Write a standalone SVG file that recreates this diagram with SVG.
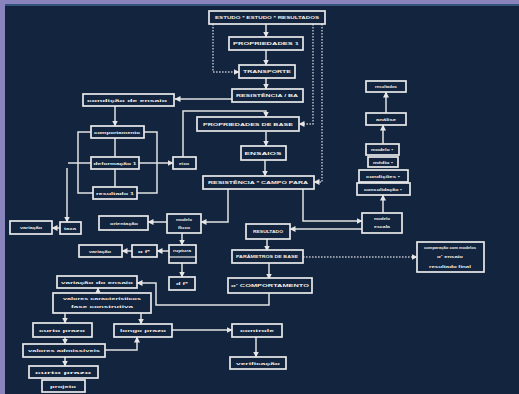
<svg xmlns="http://www.w3.org/2000/svg" width="519" height="394" viewBox="0 0 519 394">
<defs>
<style>
.n rect{fill:#13243f;stroke:#e9e9e9;stroke-width:1.7}
.n text{font-family:"Liberation Sans",Arial,sans-serif;font-size:4.4px;fill:#f3f0ea;text-anchor:middle;font-weight:bold}
.c path{fill:none;stroke:#e2e2e2;stroke-width:1.5}
.c path.a{marker-end:url(#ah)}
.c path.d{stroke:#b9bdc8;stroke-dasharray:1.6 1.4}
</style>
<marker id="ah" markerUnits="userSpaceOnUse" markerWidth="6" markerHeight="6" refX="5.5" refY="3" orient="auto">
<path d="M0,0 L6,3 L0,6 z" fill="#e6e6e6"/>
</marker>
</defs>
<rect x="0" y="0" width="519" height="394" fill="#8a84bc"/>
<rect x="5" y="4" width="514" height="390" fill="#13243f"/>
<rect x="5" y="4" width="514" height="2" fill="#35547d"/>

<g class="c">
<path class="a" d="M266,24 V37"/>
<path class="a" d="M266,50 V65"/>
<path class="a" d="M266,78 V89"/>
<path class="a d" d="M213,24 V72 H239"/>
<path class="a d" d="M313,24 V124 H299"/>
<path class="a d" d="M322,24 V182 H314"/>
<path class="a" d="M232,99 H175"/>
<path class="a" d="M115,106 V126"/>
<path class="a" d="M183,157 V111 H266 V117"/>
<path class="a" d="M266,132 V146"/>
<path class="a" d="M265,160 V176"/>
<path d="M115,138 V157"/>
<path d="M115,169 V187"/>
<path d="M91,132 H78 V193 H93"/>
<path d="M144,132 H157 V193 H137"/>
<path d="M68,163 H91"/>
<path class="a" d="M67,168 V222"/>
<path class="a" d="M139,163 H173"/>
<path class="a" d="M60,228 H52"/>
<path class="a" d="M228,189 V222 H201"/>
<path d="M303,189 V221 H357"/>
<path class="a" d="M357,221 H362"/>
<path class="a" d="M362,229 H290"/>
<path class="a" d="M383,213 V195"/>
<path class="a" d="M383,144 V125"/>
<path class="a" d="M386,113 V92"/>
<path class="a" d="M167,222 H148"/>
<path class="a" d="M182,233 V245"/>
<path class="a" d="M169,251 H157"/>
<path class="a" d="M132,251 H122"/>
<path class="a" d="M182,263 V277"/>
<path class="a" d="M267,239 V251"/>
<path class="a d" d="M303,257 H417"/>
<path class="a" d="M269,263 V279"/>
<path class="a" d="M269,293 V305 H156 V283 H137"/>
<path class="a" d="M98,293 V288"/>
<path class="a" d="M65,313 V323"/>
<path class="a" d="M141,313 V324"/>
<path class="a" d="M65,337 V344"/>
<path class="a" d="M105,350 H137 V337"/>
<path class="a" d="M65,357 V366"/>
<path class="a" d="M172,330 H232"/>
<path class="a" d="M256,337 V357"/>
</g>

<g id="n1" class="n"><rect x="209" y="11" width="116" height="13"/><text x="267" y="19" textLength="104" lengthAdjust="spacingAndGlyphs">ESTUDO * ESTUDO * RESULTADOS</text></g>
<g id="n2" class="n"><rect x="229" y="37" width="74" height="13"/><text x="266" y="45" textLength="66" lengthAdjust="spacingAndGlyphs">PROPRIEDADES 1</text></g>
<g id="n3" class="n"><rect x="239" y="65" width="56" height="13"/><text x="267" y="73" textLength="48" lengthAdjust="spacingAndGlyphs">TRANSPORTE</text></g>
<g id="n4" class="n"><rect x="232" y="89" width="71" height="13"/><text x="267" y="97" textLength="62" lengthAdjust="spacingAndGlyphs">RESISTÊNCIA / BA</text></g>
<g id="n5" class="n"><rect x="83" y="94" width="91" height="12"/><text x="127" y="101.5" textLength="80" lengthAdjust="spacingAndGlyphs">condição  de  ensaio</text></g>
<g id="n6" class="n"><rect x="197" y="117" width="102" height="14"/><text x="248" y="125.5" textLength="90" lengthAdjust="spacingAndGlyphs">PROPRIEDADES DE BASE</text></g>
<g id="n7" class="n"><rect x="91" y="126" width="53" height="12"/><text x="117" y="133.5" textLength="46" lengthAdjust="spacingAndGlyphs">comportamento</text></g>
<g id="n8" class="n"><rect x="241" y="146" width="45" height="14"/><text x="263" y="154.5" textLength="37" lengthAdjust="spacingAndGlyphs">ENSAIOS</text></g>
<g id="n9" class="n"><rect x="91" y="157" width="48" height="12"/><text x="115" y="164.5" textLength="43" lengthAdjust="spacingAndGlyphs">deformação 1</text></g>
<g id="n10" class="n"><rect x="173" y="157" width="23" height="12"/><text x="184" y="164.5" textLength="10" lengthAdjust="spacingAndGlyphs">eixo</text></g>
<g id="n11" class="n"><rect x="93" y="187" width="44" height="12"/><text x="115" y="194.5" textLength="38" lengthAdjust="spacingAndGlyphs">resultado 1</text></g>
<g id="n12" class="n"><rect x="203" y="176" width="111" height="13"/><text x="258" y="184" textLength="100" lengthAdjust="spacingAndGlyphs">RESISTÊNCIA * CAMPO PARA</text></g>
<g id="n13" class="n"><rect x="366" y="81" width="40" height="11"/><text x="386" y="88" textLength="22" lengthAdjust="spacingAndGlyphs">resultados</text></g>
<g id="n14" class="n"><rect x="366" y="113" width="40" height="12"/><text x="386" y="120.5" textLength="20" lengthAdjust="spacingAndGlyphs">análise</text></g>
<g id="n15" class="n"><rect x="366" y="144" width="33" height="11"/><text x="382" y="151" textLength="22" lengthAdjust="spacingAndGlyphs">modelo  •</text></g>
<g id="n16" class="n"><rect x="368" y="157" width="30" height="10"/><text x="383" y="163.5" textLength="20" lengthAdjust="spacingAndGlyphs">médio  •</text></g>
<g id="n17" class="n"><rect x="359" y="170" width="49" height="12"/><text x="383" y="177.5" textLength="34" lengthAdjust="spacingAndGlyphs">condições  •</text></g>
<g id="n18" class="n"><rect x="357" y="183" width="53" height="12"/><text x="383" y="190.5" textLength="38" lengthAdjust="spacingAndGlyphs">consolidação  •</text></g>
<g id="n19" class="n"><rect x="362" y="213" width="40" height="20"/><text x="382" y="220" textLength="16" lengthAdjust="spacingAndGlyphs">modelo</text><text x="382" y="228" textLength="16" lengthAdjust="spacingAndGlyphs">escala</text></g>
<g id="n20" class="n"><rect x="10" y="221" width="42" height="13"/><text x="31" y="229" textLength="22" lengthAdjust="spacingAndGlyphs">variação</text></g>
<g id="n21" class="n"><rect x="60" y="222" width="21" height="12"/><text x="70" y="229.5" textLength="12" lengthAdjust="spacingAndGlyphs">taxa</text></g>
<g id="n22" class="n"><rect x="99" y="216" width="49" height="14"/><text x="124" y="224.5" textLength="28" lengthAdjust="spacingAndGlyphs">orientação</text></g>
<g id="n23" class="n"><rect x="167" y="214" width="34" height="19"/><text x="184" y="220.5" textLength="16" lengthAdjust="spacingAndGlyphs">modelo</text><text x="184" y="228.5" textLength="12" lengthAdjust="spacingAndGlyphs">fluxo</text></g>
<g id="n24" class="n"><rect x="79" y="245" width="43" height="12"/><text x="100" y="252.5" textLength="22" lengthAdjust="spacingAndGlyphs">variação</text></g>
<g id="n25" class="n"><rect x="132" y="245" width="25" height="12"/><text x="144" y="252.5" textLength="12" lengthAdjust="spacingAndGlyphs">α f*</text></g>
<g id="n26" class="n"><rect x="169" y="245" width="27" height="18"/><path d="M169,257 H196" stroke="#e9e9e9" stroke-width="1.2"/><text x="182" y="252" textLength="18" lengthAdjust="spacingAndGlyphs">ruptura</text></g>
<g id="n27" class="n"><rect x="169" y="277" width="26" height="13"/><text x="182" y="285" textLength="12" lengthAdjust="spacingAndGlyphs">d f*</text></g>
<g id="n28" class="n"><rect x="246" y="224" width="44" height="15"/><text x="268" y="233" textLength="30" lengthAdjust="spacingAndGlyphs">RESULTADO</text></g>
<g id="n29" class="n"><rect x="232" y="250" width="71" height="13"/><text x="267" y="258" textLength="62" lengthAdjust="spacingAndGlyphs">PARÂMETROS DE BASE</text></g>
<g id="n30" class="n"><rect x="228" y="278" width="84" height="15"/><text x="270" y="287" textLength="78" lengthAdjust="spacingAndGlyphs">σ' COMPORTAMENTO</text></g>
<g id="n31" class="n"><rect x="417" y="242" width="67" height="30"/><text x="450" y="248.5" textLength="52" lengthAdjust="spacingAndGlyphs">comparação com modelos</text><text x="450" y="257.5" textLength="26" lengthAdjust="spacingAndGlyphs">σ' ensaio</text><text x="450" y="267.5" textLength="42" lengthAdjust="spacingAndGlyphs">resultado final</text></g>
<g id="n32" class="n"><rect x="57" y="276" width="80" height="12"/><text x="97" y="283.5" textLength="72" lengthAdjust="spacingAndGlyphs">variação  do  ensaio</text></g>
<g id="n33" class="n"><rect x="53" y="293" width="98" height="20"/><text x="102" y="300" textLength="78" lengthAdjust="spacingAndGlyphs">valores  característicos</text><text x="102" y="308" textLength="62" lengthAdjust="spacingAndGlyphs">fase  construtiva</text></g>
<g id="n34" class="n"><rect x="33" y="323" width="59" height="14"/><text x="62" y="331.5" textLength="46" lengthAdjust="spacingAndGlyphs">curto prazo</text></g>
<g id="n35" class="n"><rect x="114" y="324" width="58" height="13"/><text x="143" y="332" textLength="46" lengthAdjust="spacingAndGlyphs">longo prazo</text></g>
<g id="n36" class="n"><rect x="23" y="344" width="82" height="13"/><text x="64" y="352" textLength="72" lengthAdjust="spacingAndGlyphs">valores  admissíveis</text></g>
<g id="n37" class="n"><rect x="29" y="366" width="69" height="12"/><text x="63" y="373.5" textLength="56" lengthAdjust="spacingAndGlyphs">curto prazo</text></g>
<g id="n38" class="n"><rect x="42" y="380" width="43" height="12"/><text x="63" y="387.5" textLength="26" lengthAdjust="spacingAndGlyphs">projeto</text></g>
<g id="n39" class="n"><rect x="232" y="324" width="50" height="13"/><text x="257" y="332" textLength="34" lengthAdjust="spacingAndGlyphs">controle</text></g>
<g id="n40" class="n"><rect x="230" y="357" width="56" height="12"/><text x="258" y="364.5" textLength="44" lengthAdjust="spacingAndGlyphs">verificação</text></g>
</svg>
